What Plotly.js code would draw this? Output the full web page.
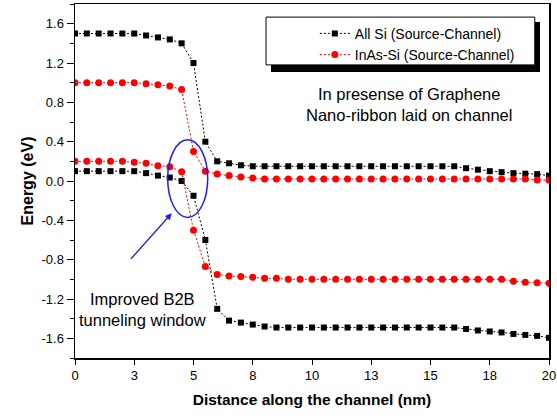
<!DOCTYPE html>
<html>
<head>
<meta charset="utf-8">
<script src="https://cdn.plot.ly/plotly-3.0.1.min.js"></script>
<style>html,body{margin:0;padding:0;background:#fff;}#chart{width:557px;height:416px;}</style>
</head>
<body>
<div id="chart"></div>
<script>
// Distance along the channel (nm)
const distance = [0,0.5,1,1.5,2,2.5,3,3.5,4,4.5,5,5.5,6,6.5,7,7.5,8,8.5,9,9.5,10,10.5,11,11.5,12,12.5,13,13.5,14,14.5,15,15.5,16,16.5,17,17.5,18,18.5,19,19.5,20];

// All Si (Source-Channel): conduction band and valence band (eV)
const allSiCB = [1.50,1.50,1.50,1.50,1.50,1.50,1.48,1.46,1.44,1.40,1.20,0.40,0.20,0.18,0.16,0.15,
  0.15,0.15,0.15,0.15,0.15,0.15,0.15,0.15,0.15,0.15,0.15,0.15,0.15,0.15,0.15,0.15,0.15,
  0.13,0.115,0.10,0.09,0.08,0.075,0.07,0.055];
const allSiVB = [0.10,0.10,0.10,0.10,0.10,0.10,0.08,0.055,0.035,0.0,-0.15,-0.60,
  -1.30,-1.42,-1.44,-1.46,-1.48,-1.49,
  -1.49,-1.49,-1.49,-1.49,-1.49,-1.49,-1.49,-1.49,-1.49,-1.49,-1.49,-1.49,-1.49,-1.49,-1.49,
  -1.505,-1.52,-1.53,-1.54,-1.555,-1.565,-1.575,-1.595];

// InAs-Si (Source-Channel): conduction band and valence band (eV)
const inasCB = [1.00,1.00,1.00,1.00,1.00,1.00,0.99,0.98,0.965,0.93,0.30,0.10,0.07,0.055,0.04,0.03,
  0.02,0.02,0.02,0.02,0.02,0.02,0.02,0.02,0.02,0.02,0.02,0.02,0.02,0.02,0.02,0.02,0.02,0.02,0.02,0.02,0.02,0.02,0.02,
  0.01,0.01];
const inasVB = [0.20,0.20,0.20,0.20,0.20,0.19,0.18,0.155,0.145,0.095,-0.50,-0.87,
  -0.95,-0.965,-0.97,-0.98,-0.99,-0.99,
  -1.0,-1.0,-1.0,-1.0,-1.0,-1.0,-1.0,-1.0,-1.0,-1.0,-1.0,-1.0,-1.0,-1.0,-1.0,-1.0,-1.0,-1.0,-1.0,
  -1.02,-1.03,-1.035,-1.04];

// Tick labels
const xTickVals = [0,2.5,5,7.5,10,12.5,15,17.5,20];
const xTickText = ['0','3','5','8','10','13','15','18','20'];
const yTickVals = [-1.6,-1.2,-0.8,-0.4,0,0.4,0.8,1.2,1.6];
const yTickText = ['-1.6','-1.2','-0.8','-0.4','0.0','0.4','0.8','1.2','1.6'];

const seriesNames = ['All Si (Source-Channel)', 'InAs-Si (Source-Channel)'];

const FONT = 'Liberation Sans, Arial, sans-serif';

const blackStyle = {
  mode: 'lines+markers',
  line: {color: '#000000', width: 1, dash: '2px,2px'},
  marker: {symbol: 'square', size: 6, color: '#000000'}
};
const redStyle = {
  mode: 'lines+markers',
  line: {color: '#ff0000', width: 1, dash: '2px,2px'},
  marker: {symbol: 'circle', size: 7, color: '#ff0000'}
};

const traces = [
  Object.assign({x: distance, y: allSiCB, name: seriesNames[0], legendgroup: 'si', showlegend: true}, blackStyle),
  Object.assign({x: distance, y: inasCB, name: seriesNames[1], legendgroup: 'inas', showlegend: true}, redStyle),
  Object.assign({x: distance, y: allSiVB, name: seriesNames[0], legendgroup: 'si', showlegend: false}, blackStyle),
  Object.assign({x: distance, y: inasVB, name: seriesNames[1], legendgroup: 'inas', showlegend: false}, redStyle)
];

const layout = {
  width: 557, height: 416,
  margin: {l: 75, r: 8, t: 4, b: 58},
  paper_bgcolor: '#ffffff', plot_bgcolor: '#ffffff',
  font: {family: FONT, size: 13, color: '#000000'},
  showlegend: true,
  legend: {
    x: 0.506, y: 0.961, xanchor: 'left', yanchor: 'top',
    bgcolor: 'rgba(0,0,0,0)', borderwidth: 0,
    font: {family: FONT, size: 14, color: '#000000'},
    tracegroupgap: 0
  },
  xaxis: {
    range: [0, 20],
    tickmode: 'array', tickvals: xTickVals, ticktext: xTickText,
    ticks: 'outside', ticklen: 5, tickwidth: 1, tickcolor: '#000',
    showline: true, mirror: true, linecolor: '#000', linewidth: 1.5,
    showgrid: false, zeroline: false,
    tickfont: {family: FONT, size: 13, color: '#000'},
    title: {text: '<b>Distance along the channel (nm)</b>', font: {family: FONT, size: 15.5, color: '#000'}, standoff: 12}
  },
  yaxis: {
    range: [-1.8, 1.8],
    tickmode: 'array', tickvals: yTickVals, ticktext: yTickText,
    ticks: 'outside', ticklen: 7, tickwidth: 1, tickcolor: '#000',
    minor: {tickmode: 'linear', tick0: 0, dtick: 0.2, ticks: 'outside', ticklen: 4, tickcolor: '#000', showgrid: false},
    showline: true, mirror: true, linecolor: '#000', linewidth: 1.5,
    showgrid: false, zeroline: false,
    tickfont: {family: FONT, size: 13, color: '#000'},
    title: {text: '<b>Energy (eV)</b>', font: {family: FONT, size: 16, color: '#000'}, standoff: 4}
  },
  shapes: [
    // legend drop shadow
    {type: 'rect', xref: 'paper', yref: 'paper', x0: 0.4135, x1: 0.981, y0: 0.808, y1: 0.949,
      fillcolor: '#000', line: {width: 0}, layer: 'above'},
    // legend box
    {type: 'rect', xref: 'paper', yref: 'paper', x0: 0.403, x1: 0.970, y0: 0.828, y1: 0.963,
      fillcolor: '#fff', line: {color: '#000', width: 1}, layer: 'above'},
    // blue ellipse marking the tunneling window
    {type: 'circle', xref: 'x', yref: 'y', x0: 3.91, x1: 5.6, y0: -0.37, y1: 0.42,
      line: {color: '#1a1aff', width: 1.5}, fillcolor: 'rgba(0,0,0,0)', layer: 'above'}
  ],
  annotations: [
    {xref: 'paper', yref: 'paper', x: 0.704, y: 0.715, xanchor: 'center', yanchor: 'middle',
      text: 'In presense of Graphene<br>Nano-ribbon laid on channel', showarrow: false,
      font: {family: FONT, size: 16.5, color: '#000'}, align: 'center'},
    {xref: 'paper', yref: 'paper', x: (142 - 75) / 474, y: (358 - 309) / 354, xanchor: 'center', yanchor: 'middle',
      text: 'Improved B2B<br>tunneling window', showarrow: false,
      font: {family: FONT, size: 16.5, color: '#000'}, align: 'center'},
    {xref: 'x', yref: 'y', x: 4.08, y: -0.328, text: '', showarrow: true,
      ax: -42, ay: 47, arrowcolor: '#1a1aff', arrowwidth: 1.3, arrowhead: 2, arrowsize: 1}
  ]
};

Plotly.newPlot('chart', traces, layout, {displayModeBar: false, staticPlot: true});
</script>
</body>
</html>
